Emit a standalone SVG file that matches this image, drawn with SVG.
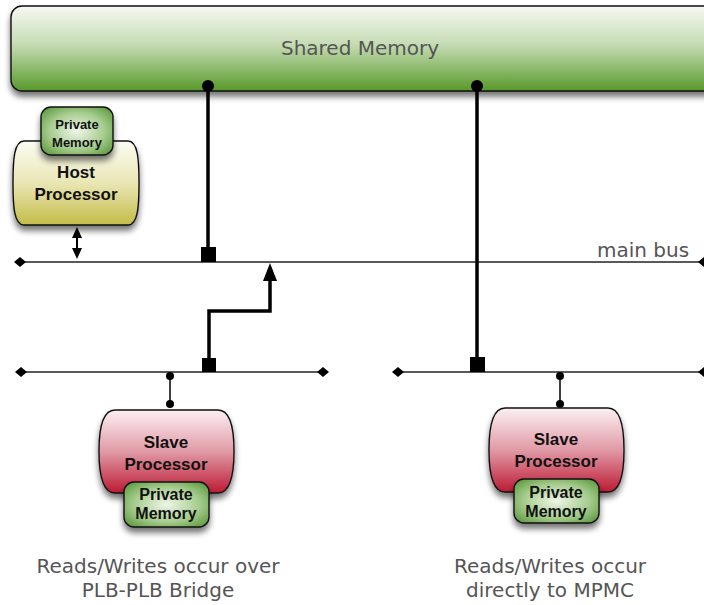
<svg xmlns="http://www.w3.org/2000/svg" width="704" height="605" viewBox="0 0 704 605">
  <style>
    .label { font-family: "DejaVu Sans", Verdana, sans-serif; fill: #555; text-anchor: middle; }
    .bold { font-family: "Liberation Sans", Arial, sans-serif; font-weight: bold; fill: #111; text-anchor: middle; }
    .bus { stroke: #222; stroke-width: 1.6; fill: none; }
    .thick { stroke: #000; stroke-width: 3.5; fill: none; }
    .thin { stroke: #000; stroke-width: 1.5; fill: none; }
    .outline { stroke: #111; stroke-width: 1.4; }
  </style>
  <defs>
    <linearGradient id="gShared" x1="0" y1="0" x2="0" y2="1">
      <stop offset="0" stop-color="#f6f9f3"/>
      <stop offset="0.45" stop-color="#c6dcb4"/>
      <stop offset="1" stop-color="#58992a"/>
    </linearGradient>
    <linearGradient id="gHost" x1="0" y1="0" x2="0" y2="1">
      <stop offset="0" stop-color="#fcfcf4"/>
      <stop offset="0.5" stop-color="#e9e6b4"/>
      <stop offset="1" stop-color="#c4bc48"/>
    </linearGradient>
    <linearGradient id="gSlave" x1="0" y1="0" x2="0" y2="1">
      <stop offset="0" stop-color="#fcf0f2"/>
      <stop offset="0.5" stop-color="#e09aa6"/>
      <stop offset="1" stop-color="#bd1b34"/>
    </linearGradient>
    <radialGradient id="gPriv" cx="0.5" cy="0.5" r="0.7">
      <stop offset="0" stop-color="#eef6e8"/>
      <stop offset="0.55" stop-color="#a6cc8e"/>
      <stop offset="1" stop-color="#4f9030"/>
    </radialGradient>
    <filter id="shadow" x="-20%" y="-20%" width="140%" height="150%">
      <feGaussianBlur in="SourceAlpha" stdDeviation="3"/>
      <feOffset dx="0" dy="5" result="b"/>
      <feComponentTransfer><feFuncA type="linear" slope="0.55"/></feComponentTransfer>
      <feMerge><feMergeNode/><feMergeNode in="SourceGraphic"/></feMerge>
    </filter>
  </defs>

  <!-- shared memory block -->
  <g id="shared-memory">
    <rect x="11" y="6" width="710" height="85" rx="11" fill="url(#gShared)" class="outline" filter="url(#shadow)"/>
    <text x="360" y="55" class="label" font-size="20">Shared Memory</text>
  </g>

  <!-- buses and links -->
  <g id="connectors">
    <!-- main bus -->
    <line x1="20" y1="262" x2="704" y2="262" class="bus"/>
    <polygon points="14,262 20,257 26,262 20,267" fill="#000"/>
    <polygon points="698,262 704,257 710,262 704,267" fill="#000"/>
    <text x="643" y="257" class="label" font-size="20">main bus</text>

    <!-- left local bus -->
    <line x1="21" y1="372" x2="323" y2="372" class="bus"/>
    <polygon points="15,372 21,367 27,372 21,377" fill="#000"/>
    <polygon points="317,372 323,367 329,372 323,377" fill="#000"/>

    <!-- right local bus -->
    <line x1="398" y1="372" x2="704" y2="372" class="bus"/>
    <polygon points="392,372 398,367 404,372 398,377" fill="#000"/>
    <polygon points="698,372 704,367 710,372 704,377" fill="#000"/>

    <!-- shared memory to main bus -->
    <circle cx="208" cy="86" r="6" fill="#000"/>
    <line x1="208" y1="86" x2="208" y2="250" class="thick"/>
    <rect x="201" y="247" width="15" height="15" fill="#000"/>

    <!-- shared memory direct to right local bus -->
    <circle cx="477" cy="86" r="6" fill="#000"/>
    <line x1="477" y1="86" x2="477" y2="360" class="thick"/>
    <rect x="470" y="357" width="15" height="15" fill="#000"/>

    <!-- bridge from left local bus to main bus -->
    <rect x="202" y="358" width="14" height="14" fill="#000"/>
    <polyline points="209,360 209,311 270,311 270,280" class="thick"/>
    <polygon points="263,281 277,281 270,263" fill="#000"/>

    <!-- host processor to main bus -->
    <line x1="77" y1="236" x2="77" y2="250" stroke="#000" stroke-width="2"/>
    <polygon points="72,238 82,238 77,227" fill="#000"/>
    <polygon points="72,248 82,248 77,259" fill="#000"/>

    <!-- slave processors to local buses -->
    <line x1="170" y1="376" x2="170" y2="404" class="thin"/>
    <circle cx="170" cy="376" r="4" fill="#000"/>
    <circle cx="170" cy="404" r="4" fill="#000"/>
    <line x1="560" y1="376" x2="560" y2="404" class="thin"/>
    <circle cx="560" cy="376" r="4" fill="#000"/>
    <circle cx="560" cy="404" r="4" fill="#000"/>
  </g>

  <!-- host processor with private memory -->
  <g id="host-processor">
    <path d="M 24,141 H 128 C 138,141 139,160 139,183 C 139,206 138,225 128,225 H 24 C 14,225 13,206 13,183 C 13,160 14,141 24,141 Z" fill="url(#gHost)" class="outline" filter="url(#shadow)"/>
    <text x="76" y="178" class="bold" font-size="17">Host</text>
    <text x="76" y="200" class="bold" font-size="17">Processor</text>
  </g>
  <g id="host-private-memory">
    <rect x="41" y="107" width="72" height="48" rx="10" fill="url(#gPriv)" class="outline" filter="url(#shadow)"/>
    <text x="77" y="129" class="bold" font-size="13">Private</text>
    <text x="77" y="147" class="bold" font-size="13">Memory</text>
  </g>

  <!-- slave processor on left local bus -->
  <g id="slave-processor-left">
    <path d="M 115,410 H 218 C 231,410 234,430 234,451 C 234,472 231,493 218,493 H 115 C 102,493 99,472 99,451 C 99,430 102,410 115,410 Z" fill="url(#gSlave)" class="outline" filter="url(#shadow)"/>
    <text x="166" y="448" class="bold" font-size="17">Slave</text>
    <text x="166" y="470" class="bold" font-size="17">Processor</text>
  </g>
  <g id="slave-private-memory-left">
    <rect x="124" y="482" width="85" height="45" rx="10" fill="url(#gPriv)" class="outline" filter="url(#shadow)"/>
    <text x="166" y="500" class="bold" font-size="16">Private</text>
    <text x="166" y="519" class="bold" font-size="16">Memory</text>
  </g>

  <!-- slave processor on right local bus -->
  <g id="slave-processor-right">
    <path d="M 505,408 H 608 C 621,408 624,428 624,450 C 624,471 621,492 608,492 H 505 C 492,492 489,471 489,450 C 489,428 492,408 505,408 Z" fill="url(#gSlave)" class="outline" filter="url(#shadow)"/>
    <text x="556" y="445" class="bold" font-size="17">Slave</text>
    <text x="556" y="467" class="bold" font-size="17">Processor</text>
  </g>
  <g id="slave-private-memory-right">
    <rect x="514" y="479" width="85" height="44" rx="10" fill="url(#gPriv)" class="outline" filter="url(#shadow)"/>
    <text x="556" y="498" class="bold" font-size="16">Private</text>
    <text x="556" y="517" class="bold" font-size="16">Memory</text>
  </g>

  <!-- captions -->
  <g id="caption-left">
    <text x="158" y="573" class="label" font-size="20">Reads/Writes occur over</text>
    <text x="158" y="597" class="label" font-size="20">PLB-PLB Bridge</text>
  </g>
  <g id="caption-right">
    <text x="550" y="573" class="label" font-size="20">Reads/Writes occur</text>
    <text x="550" y="597" class="label" font-size="20">directly to MPMC</text>
  </g>
</svg>
